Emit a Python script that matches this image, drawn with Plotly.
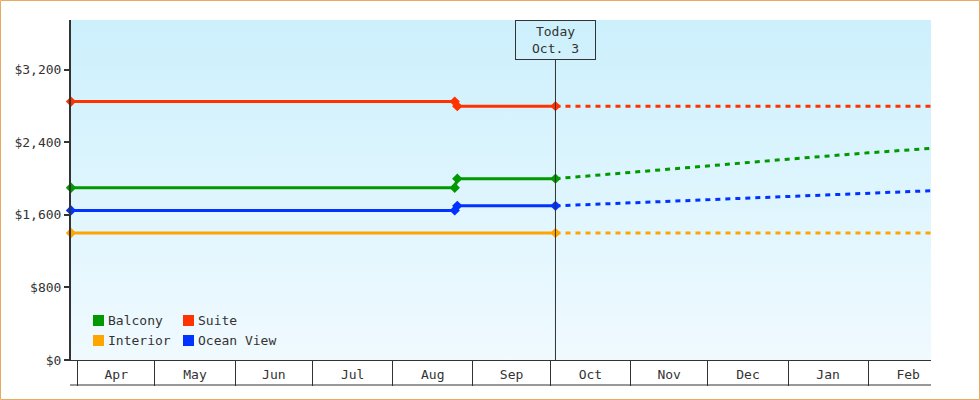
import base64
import plotly.graph_objects as go

# ---------------- data ----------------
range_start = "2023-03-29 12:00"
range_end = "2024-02-25 08:00"
today = "2023-10-03"

series_names = ["Balcony", "Suite", "Interior", "Ocean View"]
series_colors = ["#009900", "#ff3300", "#ffa500", "#0033ff"]

# actual (solid) price history
hist_dates = {
    "Balcony": [range_start, "2023-08-25", "2023-08-26", today],
    "Suite": [range_start, "2023-08-25", "2023-08-26", today],
    "Interior": [range_start, today],
    "Ocean View": [range_start, "2023-08-25", "2023-08-26", today],
}
hist_prices = {
    "Balcony": [1900, 1900, 2000, 2000],
    "Suite": [2850, 2850, 2800, 2800],
    "Interior": [1400, 1400],
    "Ocean View": [1650, 1650, 1700, 1700],
}

# forecast (dashed)
fc_dates = [today, "2023-11-01", "2023-12-01", "2024-01-01", "2024-02-01", "2024-02-28"]
fc_prices = {
    "Balcony": [2000, 2070, 2145, 2215, 2285, 2340],
    "Suite": [2800, 2800, 2800, 2800, 2800, 2800],
    "Interior": [1400, 1400, 1400, 1400, 1400, 1400],
    "Ocean View": [1700, 1735, 1770, 1805, 1840, 1870],
}

y_ticks = [0, 800, 1600, 2400, 3200]
y_tick_labels = ["$0", "$800", "$1,600", "$2,400", "$3,200"]

FONT = "DejaVu Sans Mono"
INK = "#333333"

fig = go.Figure()

draw_order = ["Interior", "Ocean View", "Balcony", "Suite"]
for name in draw_order:
    c = series_colors[series_names.index(name)]
    fig.add_trace(go.Scatter(
        x=fc_dates, y=fc_prices[name], mode="lines", name=name,
        line=dict(color=c, width=3, dash="5px,5px"), showlegend=False,
        hoverinfo="skip",
    ))
for name in draw_order:
    c = series_colors[series_names.index(name)]
    fig.add_trace(go.Scatter(
        x=hist_dates[name], y=hist_prices[name], mode="lines+markers", name=name,
        line=dict(color=c, width=3),
        marker=dict(symbol="diamond", size=8, color=c, line=dict(width=0)),
        showlegend=False, cliponaxis=False,
    ))

# gradient background via inline SVG image
svg = ('<svg xmlns="http://www.w3.org/2000/svg" width="100" height="100" '
       'preserveAspectRatio="none" viewBox="0 0 100 100">'
       '<defs><linearGradient id="g" x1="0" y1="0" x2="0" y2="1">'
       '<stop offset="0" stop-color="#ccf0fc"/><stop offset="1" stop-color="#f0faff"/>'
       '</linearGradient></defs><rect width="100" height="100" fill="url(#g)"/></svg>')
src = "data:image/svg+xml;base64," + base64.b64encode(svg.encode()).decode()
fig.add_layout_image(dict(source=src, xref="paper", yref="paper", x=0, y=1,
                          sizex=1, sizey=1, sizing="stretch", layer="below",
                          xanchor="left", yanchor="top"))

shapes = []
# today line
shapes.append(dict(type="line", xref="x", yref="paper", x0=today, x1=today,
                   y0=0, y1=300 / 340, line=dict(color=INK, width=1)))
# bottom line of month boxes
shapes.append(dict(type="line", xref="paper", yref="paper", x0=-1 / 860, x1=1,
                   y0=-25 / 340, y1=-25 / 340, line=dict(color=INK, width=1)))
# outer frame
shapes.append(dict(type="rect", xref="paper", yref="paper",
                   x0=(0.5 - 71) / 860, x1=(979.5 - 71) / 860,
                   y0=(360 - 399.5) / 340, y1=(360 - 0.5) / 340,
                   line=dict(color="#eaa864", width=1)))

annotations = [dict(x=today, y=1, xref="x", yref="paper", xanchor="center", yanchor="top",
                    text="Today<br>Oct. 3", showarrow=False, width=73, height=32,
                    borderpad=3, bordercolor=INK, borderwidth=1,
                    font=dict(family=FONT, size=13, color=INK))]

# manual legend (2 x 2)
legend_pos = {"Balcony": (22, 34), "Suite": (112, 34), "Interior": (22, 14), "Ocean View": (112, 14)}
for name in series_names:
    c = series_colors[series_names.index(name)]
    px, py = legend_pos[name]
    shapes.append(dict(type="rect", xref="paper", yref="paper", xsizemode="pixel",
                       ysizemode="pixel", xanchor=0, yanchor=0, x0=px, x1=px + 11,
                       y0=py, y1=py + 11, fillcolor=c, line=dict(width=0)))
    annotations.append(dict(x=0, y=0, xref="paper", yref="paper", xanchor="left",
                            yanchor="middle", xshift=px + 13, yshift=py + 5.5,
                            text=name, showarrow=False,
                            font=dict(family=FONT, size=13, color=INK)))

fig.update_layout(
    width=980, height=400,
    margin=dict(l=71, r=49, t=20, b=40),
    paper_bgcolor="white", plot_bgcolor="rgba(0,0,0,0)",
    font=dict(family=FONT, size=13, color=INK),
    shapes=shapes, annotations=annotations,
    showlegend=False,
    xaxis=dict(
        type="date", range=[range_start, range_end],
        showgrid=False, zeroline=False,
        showline=True, linecolor=INK, linewidth=1,
        tick0="2023-01-01", dtick="M1", tickformat="%b",
        ticklabelmode="period",
        ticks="outside", ticklen=25, tickwidth=1, tickcolor=INK,
        ticklabelstandoff=-23,
        tickfont=dict(family=FONT, size=13, color=INK),
    ),
    yaxis=dict(
        range=[0, 3750], showgrid=False, zeroline=False,
        showline=True, linecolor=INK, linewidth=2,
        tickvals=y_ticks, ticktext=y_tick_labels,
        ticks="outside", ticklen=5, tickwidth=2, tickcolor=INK,
        tickfont=dict(family=FONT, size=13, color=INK),
    ),
)

fig.write_html("out.html", config={"displayModeBar": False},
               post_script="document.body.style.margin='0';")
